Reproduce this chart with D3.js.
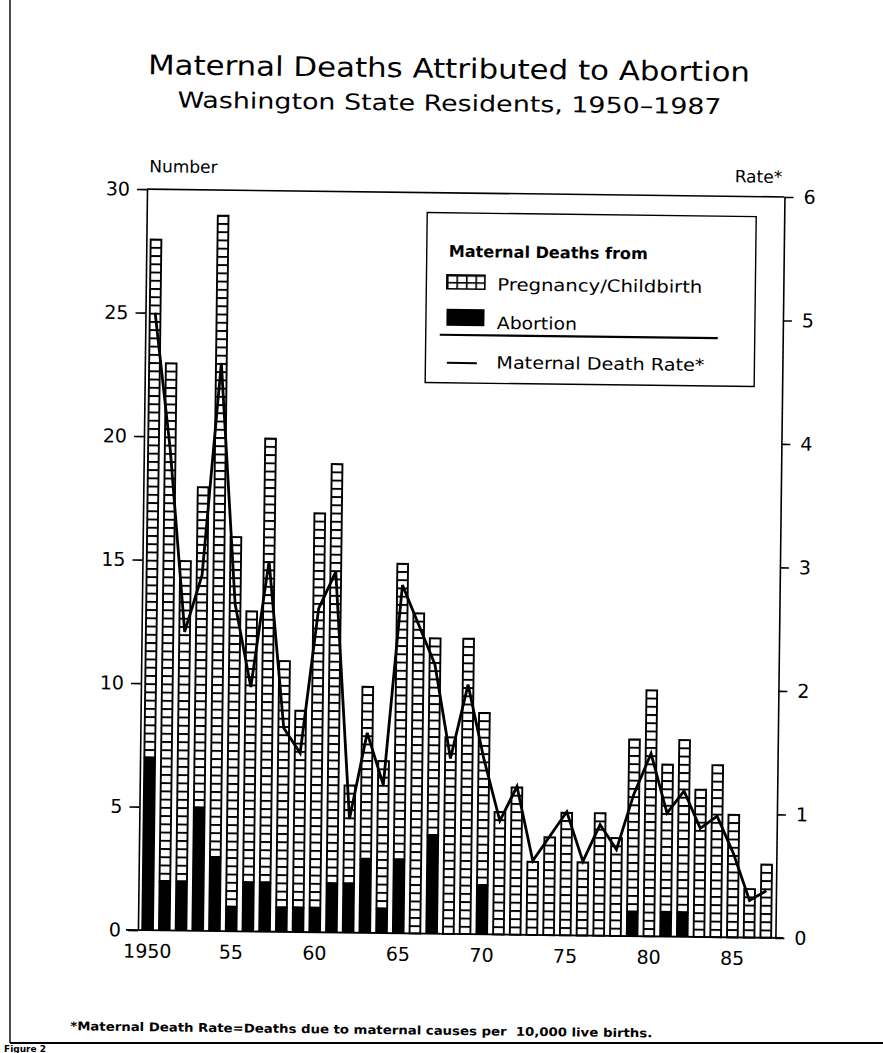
<!DOCTYPE html>
<html>
<head>
<meta charset="utf-8">
<script src="https://cdn.jsdelivr.net/npm/d3@7"></script>
<style>
html,body{margin:0;padding:0;background:#fff;}
svg{display:block;}
text{font-family:"DejaVu Sans",sans-serif;fill:#000;}
</style>
</head>
<body>
<svg id="chart" width="883" height="1053"></svg>
<script>
// ---------------- data ----------------
const years = [1950,1951,1952,1953,1954,1955,1956,1957,1958,1959,
               1960,1961,1962,1963,1964,1965,1966,1967,1968,1969,
               1970,1971,1972,1973,1974,1975,1976,1977,1978,1979,
               1980,1981,1982,1983,1984,1985,1986,1987];
const totalDeaths = [28,23,15,18,29,16,13,20,11,9,
                     17,19,6,10,7,15,13,12,8,12,
                     9,5,6,3,4,5,3,5,4,8,
                     10,7,8,6,7,5,2,3];
const abortionDeaths = [7,2,2,5,3,1,2,2,1,1,
                        1,2,2,3,1,3,0,4,0,0,
                        2,0,0,0,0,0,0,0,0,1,
                        0,1,1,0,0,0,0,0];
const deathRate = [5.0,3.9,2.42,2.88,4.6,2.65,1.98,3.0,1.65,1.45,
                   2.62,2.92,0.92,1.62,1.2,2.82,2.5,2.18,1.42,2.02,
                   1.42,0.92,1.2,0.6,0.8,1.0,0.6,0.9,0.7,1.15,
                   1.48,1.0,1.18,0.88,0.98,0.68,0.3,0.38];
const leftTicks = [0,5,10,15,20,25,30];
const rightTicks = [0,1,2,3,4,5,6];
const xTickYears = [1950,1955,1960,1965,1970,1975,1980,1985];
const xTickLabels = ["1950","55","60","65","70","75","80","85"];
const legendLabels = ["Maternal Deaths from","Pregnancy/Childbirth","Abortion","Maternal Death Rate*"];

// ---------------- layout ----------------
const L = 142.5, R = 780, T = 193, B = 934;
const svg = d3.select("#chart");
const defs = svg.append("defs");

// scanned page is slightly skewed
const g = svg.append("g").attr("transform","rotate(0.7,460,560)");

const x = d3.scaleBand().domain(years).range([L,R]).paddingInner(0.246).paddingOuter(0.2);
const y = d3.scaleLinear().domain([0,30]).range([B,T]);
const yR = d3.scaleLinear().domain([0,6]).range([B,T]);
const bw = x.bandwidth();
const cellH = (y(0) - y(1)) / 3;

// bar cell pattern (horizontal rungs)
const pat = defs.append("pattern").attr("id","cells")
  .attr("patternUnits","userSpaceOnUse").attr("width",20).attr("height",cellH)
  .attr("patternTransform",`translate(0,${B})`);
pat.append("rect").attr("width",20).attr("height",cellH).attr("fill","#fff");
pat.append("rect").attr("width",20).attr("height",1.9).attr("fill","#000");

// legend grid pattern
const lpat = defs.append("pattern").attr("id","cellsLegend")
  .attr("patternUnits","userSpaceOnUse").attr("width",9.5).attr("height",7)
  .attr("patternTransform","translate(443.5,275)");
lpat.append("rect").attr("width",9.5).attr("height",7).attr("fill","#fff");
lpat.append("rect").attr("width",9.5).attr("height",1.6).attr("fill","#000");
lpat.append("rect").attr("width",1.6).attr("height",7).attr("fill","#000");

// ---------------- titles ----------------
g.append("text").attr("x",443).attr("y",78).attr("text-anchor","middle")
  .attr("font-size",27).attr("textLength",602).attr("lengthAdjust","spacingAndGlyphs")
  .text("Maternal Deaths Attributed to Abortion");
g.append("text").attr("x",444).attr("y",111).attr("text-anchor","middle")
  .attr("font-size",22).attr("textLength",544).attr("lengthAdjust","spacingAndGlyphs")
  .text("Washington State Residents, 1950\u20131987");

g.append("text").attr("x",144.5).attr("y",176).attr("font-size",17).text("Number");
g.append("text").attr("x",777.5).attr("y",179).attr("font-size",17).attr("text-anchor","end").text("Rate*");

// ---------------- bars ----------------
const rows = years.map((yr,i)=>({year:yr,total:totalDeaths[i],abortion:abortionDeaths[i],rate:deathRate[i]}));

g.append("g").selectAll("rect").data(rows).join("rect")
  .attr("x",d=>x(d.year)+0.95).attr("width",bw-1.9)
  .attr("y",d=>y(d.total)+0.95).attr("height",d=>y(d.abortion)-y(d.total)-0.95)
  .attr("fill","url(#cells)").attr("stroke","#000").attr("stroke-width",1.9);

g.append("g").selectAll("rect").data(rows.filter(d=>d.abortion>0)).join("rect")
  .attr("x",d=>x(d.year)).attr("width",bw)
  .attr("y",d=>y(d.abortion)).attr("height",d=>B-y(d.abortion))
  .attr("fill","#000");

// ---------------- rate line ----------------
const line = d3.line().x(d=>x(d.year)+bw/2).y(d=>yR(d.rate));
g.append("path").datum(rows).attr("d",line)
  .attr("fill","none").attr("stroke","#000").attr("stroke-width",2.8).attr("stroke-linejoin","miter");

// ---------------- axes ----------------
const axL = g.append("g").attr("transform",`translate(${L},0)`)
  .call(d3.axisLeft(y).tickValues(leftTicks).tickFormat(d3.format("d")).tickSize(10).tickSizeOuter(0).tickPadding(7));
const axR = g.append("g").attr("transform",`translate(${R},0)`)
  .call(d3.axisRight(yR).tickValues(rightTicks).tickFormat(d3.format("d")).tickSize(9).tickSizeOuter(0).tickPadding(10));
[axL,axR].forEach(a=>{
  a.selectAll("path,line").attr("stroke","#000").attr("stroke-width",1.6);
  a.selectAll("text").attr("font-size",19).attr("font-family","DejaVu Sans").attr("fill","#000");
});
const axB = g.append("g").attr("transform",`translate(0,${B})`)
  .call(d3.axisBottom(x).tickValues(xTickYears).tickSize(0).tickPadding(14)
        .tickFormat((d)=>xTickLabels[xTickYears.indexOf(d)]));
axB.select(".domain").remove();
axB.selectAll("text").attr("font-size",19).attr("font-family","DejaVu Sans").attr("fill","#000");

// frame top + baseline
g.append("line").attr("x1",L).attr("x2",R).attr("y1",T).attr("y2",T).attr("stroke","#000").attr("stroke-width",1.6);
g.append("line").attr("x1",L-12).attr("x2",R+8).attr("y1",B).attr("y2",B).attr("stroke","#000").attr("stroke-width",1.8);

// ---------------- legend ----------------
const lg = g.append("g");
lg.append("rect").attr("x",423).attr("y",213).attr("width",329).attr("height",170)
  .attr("fill","#fff").attr("stroke","#000").attr("stroke-width",1.4);
lg.append("text").attr("x",445).attr("y",257).attr("font-size",16).attr("font-weight","600")
  .attr("textLength",199).attr("lengthAdjust","spacingAndGlyphs").text(legendLabels[0]);
lg.append("rect").attr("x",443.5).attr("y",275).attr("width",38).attr("height",14)
  .attr("fill","url(#cellsLegend)").attr("stroke","#000").attr("stroke-width",1.6);
lg.append("text").attr("x",494).attr("y",290).attr("font-size",17)
  .attr("textLength",205).attr("lengthAdjust","spacingAndGlyphs").text(legendLabels[1]);
lg.append("rect").attr("x",443.5).attr("y",309).attr("width",38).attr("height",17).attr("fill","#000");
lg.append("text").attr("x",494).attr("y",328.5).attr("font-size",17)
  .attr("textLength",80).attr("lengthAdjust","spacingAndGlyphs").text(legendLabels[2]);
lg.append("line").attr("x1",437).attr("x2",715).attr("y1",335).attr("y2",335).attr("stroke","#000").attr("stroke-width",2.2);
lg.append("line").attr("x1",444.5).attr("x2",474.5).attr("y1",363).attr("y2",363).attr("stroke","#000").attr("stroke-width",2);
lg.append("text").attr("x",494).attr("y",368).attr("font-size",17)
  .attr("textLength",208).attr("lengthAdjust","spacingAndGlyphs").text(legendLabels[3]);

// ---------------- footnote ----------------
g.append("text").attr("x",76).attr("y",1035).attr("font-size",12).attr("font-weight","bold")
  .attr("textLength",582).attr("lengthAdjust","spacingAndGlyphs")
  .attr("xml:space","preserve")
  .text("*Maternal Death Rate=Deaths due to maternal causes per  10,000 live births.");

// ---------------- page frame ----------------
svg.append("line").attr("x1",10).attr("x2",10).attr("y1",0).attr("y2",1043).attr("stroke","#000").attr("stroke-width",1.4);
svg.append("line").attr("x1",10).attr("x2",883).attr("y1",1043).attr("y2",1043).attr("stroke","#000").attr("stroke-width",2);
svg.append("text").attr("x",4).attr("y",1052).attr("font-size",9).attr("font-weight","bold").text("Figure 2");
</script>
</body>
</html>
